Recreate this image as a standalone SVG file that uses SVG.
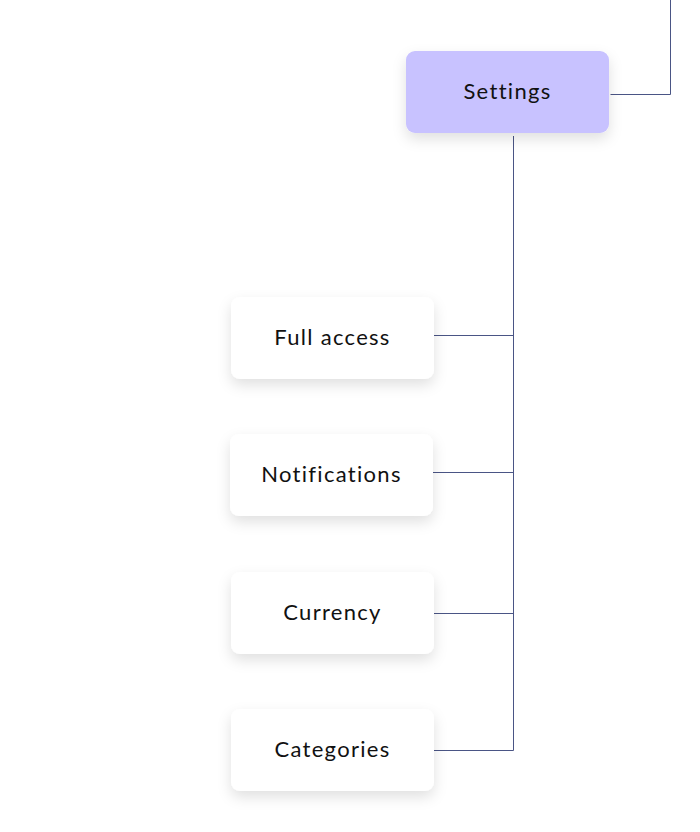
<svg xmlns="http://www.w3.org/2000/svg" width="700" height="832" viewBox="0 0 700 832">
<defs>
<filter id="sh" x="-30%" y="-40%" width="160%" height="190%">
<feDropShadow dx="0" dy="6" stdDeviation="7" flood-color="#000" flood-opacity="0.12"/>
</filter>
<style>
.box{fill:#ffffff;filter:url(#sh)}
.main{fill:#c8c2ff;filter:url(#sh)}
.lbl{font-family:"Lato","Noto Sans",sans-serif;font-size:22px;font-weight:400;fill:#111111;text-anchor:middle;dominant-baseline:central;letter-spacing:1.3px}
.con{fill:none;stroke:#4a5585;stroke-width:1}
</style>
</defs>
<rect width="700" height="832" fill="#ffffff"/>
<g id="connectors">
<path class="con" d="M610.5 94.5 H670.5 V0"/>
<path class="con" d="M513.5 136 V750.5"/>
<path class="con" d="M434 335.5 H513.5"/>
<path class="con" d="M433 472.5 H513.5"/>
<path class="con" d="M434 613.5 H513.5"/>
<path class="con" d="M434 750.5 H513.5"/>
</g>
<g id="settings">
<rect class="main" x="406" y="51" width="203" height="82" rx="9"/>
<text class="lbl" x="507.5" y="90">Settings</text>
</g>
<g id="full-access">
<rect class="box" x="231" y="297" width="203" height="82" rx="9"/>
<text class="lbl" x="332.5" y="336">Full access</text>
</g>
<g id="notifications">
<rect class="box" x="230" y="434" width="203" height="82" rx="9"/>
<text class="lbl" x="331.5" y="473">Notifications</text>
</g>
<g id="currency">
<rect class="box" x="231" y="572" width="203" height="82" rx="9"/>
<text class="lbl" x="332.5" y="611">Currency</text>
</g>
<g id="categories">
<rect class="box" x="231" y="709" width="203" height="82" rx="9"/>
<text class="lbl" x="332.5" y="748">Categories</text>
</g>
</svg>
